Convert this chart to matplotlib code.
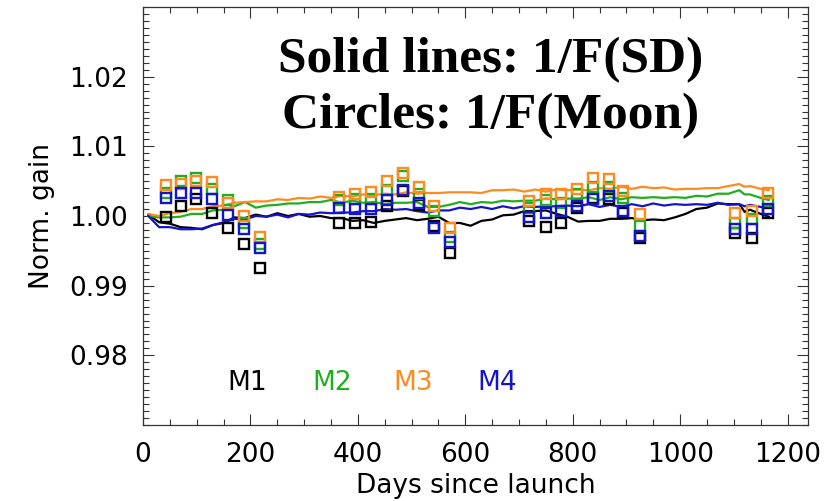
import matplotlib
matplotlib.use("Agg")
import matplotlib.pyplot as plt
from matplotlib.ticker import MultipleLocator

# Solar-diffuser gain (1/F(SD)), sampled every ~20 days
sd_days = [10, 30, 50, 70, 90, 110, 130, 150, 170, 190, 210, 230, 250, 270, 290,
           310, 330, 350, 370, 390, 410, 430, 450, 470, 490, 510, 530, 550, 570, 590,
           610, 630, 650, 670, 690, 710, 730, 750, 770, 790, 810, 830, 850, 870, 890,
           910, 930, 950, 970, 990, 1010, 1030, 1050, 1070, 1090, 1110, 1120, 1130, 1150, 1165]

sd_m1 = [1.0002, 0.9991, 0.9989, 0.9984, 0.9983, 0.9981, 0.9987, 0.9990, 0.9998, 0.9997,
         1.0002, 0.9999, 1.0004, 1.0000, 1.0003, 0.9999, 1.0000, 0.9997, 0.9997, 0.9993,
         0.9994, 0.9990, 0.9993, 0.9995, 0.9997, 0.9994, 0.9996, 0.9999, 0.9990, 0.9990,
         0.9986, 0.9993, 0.9995, 1.0001, 1.0002, 1.0007, 1.0007, 1.0008, 1.0003, 0.9999,
         0.9992, 0.9993, 0.9993, 0.9996, 0.9996, 0.9997, 0.9994, 0.9995, 0.9994, 0.9998,
         1.0003, 1.0010, 1.0012, 1.0018, 1.0017, 1.0017, 1.0006, 1.0009, 1.0003, 0.9999]

sd_m2 = [1.0000, 0.9998, 0.9998, 0.9999, 1.0003, 1.0003, 1.0008, 1.0009, 1.0014, 1.0020,
         1.0012, 1.0015, 1.0016, 1.0018, 1.0018, 1.0020, 1.0020, 1.0023, 1.0019, 1.0022,
         1.0019, 1.0020, 1.0017, 1.0019, 1.0019, 1.0020, 1.0013, 1.0013, 1.0016, 1.0020,
         1.0017, 1.0020, 1.0019, 1.0022, 1.0021, 1.0022, 1.0022, 1.0025, 1.0024, 1.0025,
         1.0025, 1.0027, 1.0023, 1.0027, 1.0024, 1.0027, 1.0026, 1.0027, 1.0026, 1.0027,
         1.0026, 1.0029, 1.0028, 1.0032, 1.0032, 1.0037, 1.0031, 1.0031, 1.0026, 1.0023]

sd_m3 = [1.0003, 1.0000, 1.0004, 1.0006, 1.0010, 1.0010, 1.0014, 1.0015, 1.0019, 1.0020,
         1.0021, 1.0021, 1.0024, 1.0023, 1.0026, 1.0025, 1.0028, 1.0026, 1.0029, 1.0028,
         1.0031, 1.0030, 1.0032, 1.0031, 1.0034, 1.0032, 1.0033, 1.0033, 1.0034, 1.0034,
         1.0034, 1.0033, 1.0037, 1.0037, 1.0038, 1.0035, 1.0038, 1.0035, 1.0038, 1.0037,
         1.0038, 1.0037, 1.0040, 1.0039, 1.0042, 1.0039, 1.0042, 1.0040, 1.0041, 1.0038,
         1.0039, 1.0039, 1.0040, 1.0040, 1.0043, 1.0046, 1.0042, 1.0043, 1.0039, 1.0037]

sd_m4 = [1.0000, 0.9984, 0.9984, 0.9981, 0.9981, 0.9982, 0.9987, 0.9991, 0.9996, 0.9995,
         1.0000, 0.9999, 1.0002, 0.9998, 1.0003, 1.0002, 1.0005, 1.0004, 1.0005, 1.0005,
         1.0007, 1.0007, 1.0010, 1.0009, 1.0010, 1.0007, 1.0005, 1.0008, 1.0008, 1.0012,
         1.0010, 1.0013, 1.0010, 1.0014, 1.0011, 1.0014, 1.0013, 1.0014, 1.0014, 1.0015,
         1.0014, 1.0017, 1.0013, 1.0016, 1.0013, 1.0017, 1.0014, 1.0018, 1.0015, 1.0017,
         1.0016, 1.0017, 1.0016, 1.0019, 1.0016, 1.0017, 1.0014, 1.0016, 1.0013, 1.0012]

# Lunar gain (1/F(Moon)) per moon event
moon_days = [42, 70, 99, 129, 158, 188, 217, 365, 395, 424, 454, 484, 513, 542, 572,
             719, 750, 778, 808, 838, 868, 894, 925, 1102, 1134, 1164]

moon_m1 = [0.9999, 1.0014, 1.0024, 1.0005, 0.9983, 0.9960, 0.9925, 0.9990, 0.9990, 0.9991,
           1.0014, 1.0036, 1.0016, 0.9985, 0.9947, 0.9993, 0.9984, 0.9990, 1.0012, 1.0026,
           1.0024, 1.0005, 0.9968, 0.9976, 0.9968, 1.0004]
moon_m2 = [1.0033, 1.0050, 1.0055, 1.0039, 1.0023, 0.9990, 0.9960, 1.0023, 1.0024, 1.0024,
           1.0037, 1.0058, 1.0031, 1.0007, 0.9970, 1.0011, 1.0023, 1.0019, 1.0031, 1.0042,
           1.0042, 1.0026, 0.9986, 0.9990, 0.9996, 1.0022]
moon_m3 = [1.0045, 1.0046, 1.0050, 1.0049, 1.0019, 1.0000, 0.9970, 1.0027, 1.0031, 1.0034,
           1.0050, 1.0062, 1.0042, 1.0014, 0.9983, 1.0022, 1.0032, 1.0032, 1.0039, 1.0055,
           1.0053, 1.0036, 1.0003, 1.0004, 1.0007, 1.0033]
moon_m4 = [1.0026, 1.0033, 1.0033, 1.0025, 1.0001, 0.9981, 0.9954, 1.0012, 1.0010, 1.0010,
           1.0023, 1.0037, 1.0018, 0.9983, 0.9962, 0.9998, 1.0004, 1.0007, 1.0014, 1.0024,
           1.0029, 1.0007, 0.9971, 0.9981, 0.9981, 1.0010]

bands = ["M1", "M2", "M3", "M4"]
colors = ["black", "#1fae1f", "#ff8a1e", "#1414cc"]
label_days = [158, 315, 466, 622]

fig = plt.figure(figsize=(8.28, 5.01), dpi=100)
ax = fig.add_axes([0.1727, 0.1517, 0.8031, 0.8343])

sd_series = [sd_m1, sd_m2, sd_m3, sd_m4]
moon_series = [moon_m1, moon_m2, moon_m3, moon_m4]

for sd, col in zip(sd_series, colors):
    ax.plot(sd_days, sd, color=col, linewidth=1.6, zorder=2)

for moon, col in zip(moon_series, colors):
    ax.plot(moon_days, moon, linestyle="none", marker="s", markersize=7.5,
            markerfacecolor="none", markeredgecolor=col, markeredgewidth=1.7, zorder=3)

for name, col, d in zip(bands, colors, label_days):
    ax.text(d, 0.976, name, color=col, fontsize=19, ha="left", va="center")

ax.set_xlim(0, 1238)
ax.set_ylim(0.97, 1.03)
ax.xaxis.set_major_locator(MultipleLocator(200))
ax.xaxis.set_minor_locator(MultipleLocator(50))
ax.yaxis.set_minor_locator(MultipleLocator(0.001))
ax.set_yticks([0.98, 0.99, 1.00, 1.01, 1.02])
ax.set_yticklabels(["0.98", "0.99", "1.00", "1.01", "1.02"])

ax.tick_params(which="both", direction="in", top=True, right=True,
               labelsize=19, color="#333333", width=0.8)
ax.tick_params(which="major", length=8)
ax.tick_params(which="minor", length=4)
ax.tick_params(axis="x", pad=12)
ax.tick_params(axis="y", pad=11)
for s in ax.spines.values():
    s.set_color("#333333")
    s.set_linewidth(0.9)

ax.set_xlabel("Days since launch", fontsize=19, labelpad=4)
ax.set_ylabel("Norm. gain", fontsize=19, labelpad=10)

fig.text(0.593, 0.856, "Solid lines: 1/F(SD)", family="Liberation Serif",
         fontweight="bold", fontsize=37, ha="center", va="baseline")
fig.text(0.593, 0.745, "Circles: 1/F(Moon)", family="Liberation Serif",
         fontweight="bold", fontsize=37, ha="center", va="baseline")

fig.savefig("out.png", dpi=100)
